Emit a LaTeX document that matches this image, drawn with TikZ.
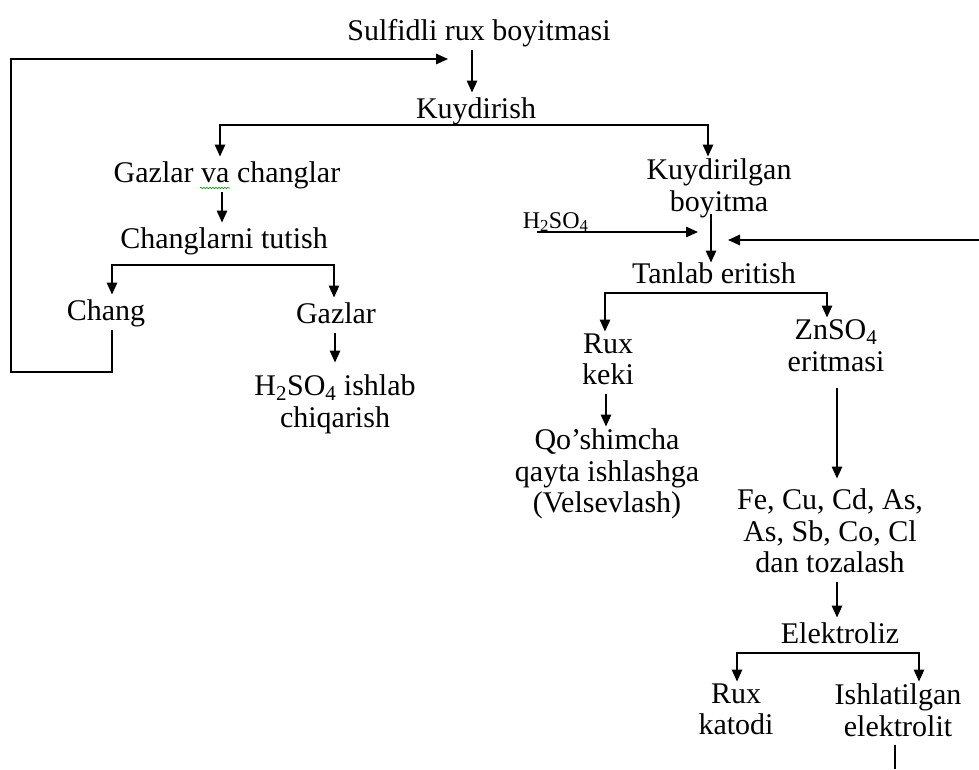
\documentclass[tikz,border=0pt]{standalone}
\usepackage{fontspec}
\setmainfont{Liberation Serif}
\usetikzlibrary{arrows.meta,decorations.pathmorphing}
\def\st{\rule[-7pt]{0pt}{31pt}}

\begin{document}
\begin{tikzpicture}[x=1pt, y=-1pt, line width=1.5pt,
	arr/.style={-{Triangle[length=12pt, width=10.5pt]}},
	box/.style={anchor=north, yshift=25.5pt, inner sep=1.5pt, align=center,
		font=\fontsize{30}{31.5}\selectfont,
		execute at begin node=\st, execute at end node=\st}]
			%%%%% START %%%%%
			\useasboundingbox (0, 0) rectangle (979, 769);
			
			\node[box] (sulf) at (479, 40) {Sulfidli rux boyitmasi};
			\node[box] (kuyd) at (476, 118) {Kuydirish};
			
			\node[box] (gaz) at (227, 182) {Gazlar va changlar};
			\node[box] (ctut) at (224, 248) {Changlarni tutish};
			\node[box] (chang) at (106, 320) {Chang};
			\node[box] (gazlar) at (336, 323) {Gazlar};
			\node[box] (hprod) at (335, 398) {H\textsubscript{2}SO\textsubscript{4} ishlab\\chiqarish};
			
			\node[box] (kbo) at (719, 182) {Kuydirilgan\\boyitma};
			\node[anchor=base west, inner sep=0pt, font=\fontsize{24}{26}\selectfont] (acid) at (522, 228) {H\textsubscript{2}SO\textsubscript{4}};
			\node[box] (tan) at (714, 283) {Tanlab eritish};
			\node[box] (rux) at (608, 357) {Rux\\keki};
			\node[box] (zns) at (836, 343) {ZnSO\textsubscript{4}\\eritmasi};
			\node[box] (qos) at (607, 452) {Qo’shimcha\\qayta ishlashga\\(Velsevlash)};
			\node[box] (tozal) at (830, 512) {Fe, Cu, Cd, As,\\As, Sb, Co, Cl\\dan tozalash};
			\node[box] (elek) at (840, 643) {Elektroliz};
			\node[box] (katod) at (736, 707) {Rux\\katodi};
			\node[box] (ishl) at (898, 707) {Ishlatilgan\\elektrolit};
			
			\coordinate (fbl) at (11, 372);
			\coordinate (fbe) at (448, 59);
			\coordinate (h2in) at (698, 232);
			\coordinate (rin) at (979, 240);
			\coordinate (rtip) at (728, 240);
			\coordinate (bot) at (895, 769);
			
			% spell-check wave under "va"
			\draw[line width=0.6pt, green!60!black, decorate, decoration={snake, amplitude=0.8pt, segment length=3pt}] (200, 188) -- (230, 188);
			
			\draw[arr] ([xshift=-4pt]kuyd.north |- sulf.south) -- ([xshift=-4pt]kuyd.north);
			\draw[arr] ([yshift=3pt]kuyd.south) -| ([xshift=-7pt]gaz.north);
			\draw[arr] ([yshift=3pt]kuyd.south) -| ([xshift=-11pt]kbo.north);
			
			\draw[arr] ([xshift=-2pt]ctut.north |- gaz.south) -- ([xshift=-2pt]ctut.north);
			\draw[arr] ([yshift=-7pt]ctut.south) -| ([xshift=6pt]chang.north);
			\draw[arr] ([yshift=-7pt]ctut.south) -| ([xshift=-2pt]gazlar.north);
			\draw[arr, shorten >=10pt] (hprod.north |- gazlar.south) -- (hprod.north);
			\draw[arr] ([xshift=6pt]chang.south) |- (fbl) |- (fbe);
			
			\draw[arr, shorten <=-6pt, shorten >=-5pt] ([xshift=-8pt]kbo.south) -- ([xshift=-3pt]tan.north);
			\draw[arr] (acid.base west) ++(15, 4) -- (h2in);
			\draw[arr] (rin) -- (rtip);
			
			\draw[arr] (tan.south) -| ([xshift=-3pt]rux.north);
			\draw[arr] (tan.south) -| ([xshift=-9pt]zns.north);
			\draw[arr] ([xshift=-2pt]rux.south) -- ([xshift=-1pt]qos.north);
			\draw[arr, shorten <=8pt, shorten >=8pt] ([xshift=1pt]zns.south) -- ([xshift=7pt]tozal.north);
			\draw[arr] ([xshift=7pt]tozal.south) -- ([xshift=-3pt]elek.north);
			
			\draw[arr] (elek.south) -| ([xshift=1pt]katod.north);
			\draw[arr] (elek.south) -| ([xshift=21pt]ishl.north);
			\draw ([xshift=-3pt]ishl.south) -- (bot);
			%%%%% END %%%%%
\end{tikzpicture}
\end{document}
